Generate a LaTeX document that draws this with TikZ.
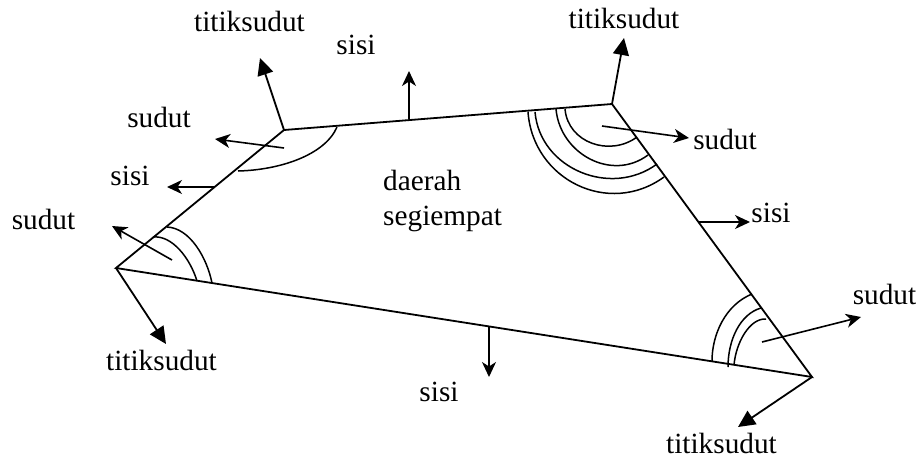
\documentclass[tikz,border=0pt]{standalone}
\usepackage{fontspec}
\setmainfont{Liberation Serif}
\usetikzlibrary{arrows.meta}
\tikzset{
  edgeline/.style={line width=1.8pt,line join=miter},
  arcline/.style={line width=1.5pt},
  arrowsmall/.style={line width=1.6pt,-{Stealth[length=15pt,width=14pt,inset=4.5pt]}},
  arrowbig/.style={line width=1.8pt,-{Triangle[length=17pt,width=16pt]}},
  lab/.style={inner sep=0pt,anchor=base,font=\fontsize{29.3}{33}\selectfont},
  labl/.style={lab,anchor=base west}
}
\begin{document}
\begin{tikzpicture}[x=1pt,y=-1pt]
\useasboundingbox (0,0) rectangle (921,459);
\fill[white] (0,0) rectangle (921,459);
\coordinate (A) at (116,268);
\coordinate (B) at (284,130);
\coordinate (C) at (612,104);
\coordinate (D) at (812,377);
\draw[edgeline] (A) -- (B) -- (C) -- (D) -- cycle;
% arcs at C
\draw[arcline] (565,109) .. controls (568,143) and (610,157) .. (637,137);
\draw[arcline] (556,109) .. controls (560,154) and (612,182) .. (648,155);
\draw[arcline] (535,112) .. controls (540,169) and (611,198) .. (657,164);
\draw[arcline] (528,112) .. controls (533,180) and (609,217) .. (664,177);
% arc at B
\draw[arcline] (337,127) .. controls (325,155) and (280,170) .. (238,171);
% arcs at A
\draw[arcline] (153,237) .. controls (172,235) and (190,258) .. (197,281);
\draw[arcline] (167,227) .. controls (190,228) and (207,258) .. (212,283);
% arcs at D
\draw[arcline] (752,294) .. controls (725,305) and (712,335) .. (712,361);
\draw[arcline] (761,308) .. controls (740,314) and (728,340) .. (728,367);
\draw[arcline] (766,319) .. controls (750,318) and (736,342) .. (734,365);
% vertex arrows
\coordinate (tB) at (260,58);
\coordinate (tC) at (624,38);
\coordinate (tA) at (166,344);
\coordinate (tD) at (738,427);
\draw[arrowbig] (B) -- (tB);
\draw[arrowbig] (C) -- (tC);
\draw[arrowbig] (A) -- (tA);
\draw[arrowbig] (D) -- (tD);
% angle arrows
\coordinate (sB0) at (284,148); \coordinate (sB1) at (215,139);
\coordinate (sA0) at (172,260); \coordinate (sA1) at (112,226);
\coordinate (sC0) at (602,126); \coordinate (sC1) at (689,138);
\coordinate (sD0) at (762,342); \coordinate (sD1) at (861,317);
\draw[arrowsmall] (sB0) -- (sB1);
\draw[arrowsmall] (sA0) -- (sA1);
\draw[arrowsmall] (sC0) -- (sC1);
\draw[arrowsmall] (sD0) -- (sD1);
% side arrows
\coordinate (eL0) at (215,187); \coordinate (eL1) at (167,187);
\coordinate (eT0) at (409,119); \coordinate (eT1) at (409,71);
\coordinate (eR0) at (699,222); \coordinate (eR1) at (750,222);
\coordinate (eB0) at (489,326); \coordinate (eB1) at (489,377);
\draw[arrowsmall] (eL0) -- (eL1);
\draw[arrowsmall] (eT0) -- (eT1);
\draw[arrowsmall] (eR0) -- (eR1);
\draw[arrowsmall] (eB0) -- (eB1);
% labels
\node[lab] (l1) at (249.5,31) {titiksudut};
\node[lab] (l2) at (356,54) {sisi};
\node[lab] (l3) at (624,28) {titiksudut};
\node[lab] (l4) at (159,127) {sudut};
\node[lab] (l5) at (130,185) {sisi};
\node[lab] (l6) at (43.5,229) {sudut};
\node[lab] (l7) at (161.5,370) {titiksudut};
\node[lab] (l8) at (725,149) {sudut};
\node[lab] (l9) at (771,222) {sisi};
\node[lab] (l10) at (884.5,304) {sudut};
\node[lab] (l11) at (439,401) {sisi};
\node[lab] (l12) at (721.5,453) {titiksudut};
\node[labl] (l13) at (383,190) {daerah};
\node[labl] (l14) at (383,225) {segiempat};
\end{tikzpicture}
\end{document}
